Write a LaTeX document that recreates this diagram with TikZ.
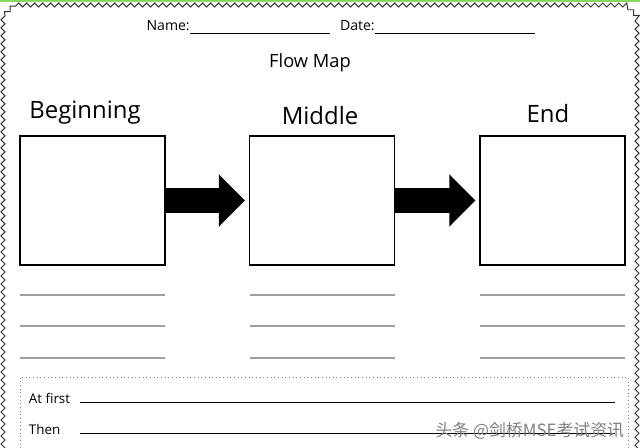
\documentclass[tikz,border=0pt]{standalone}
\usepackage{fontspec}
\setmainfont{Open Sans}
\newfontfamily\cjkfont{Noto Sans CJK SC}
\usetikzlibrary{arrows.meta,decorations.pathmorphing}
\definecolor{topgreen}{RGB}{140,212,100}
\tikzset{
  stagebox/.style={draw,line width=0.8pt,minimum width=3.625cm,minimum height=3.225cm,inner sep=0pt},
  blockarrow/.style={line width=17.8pt,-{Triangle[width=36pt,length=18.5pt]}},
  writeline/.style={gray!75,line width=1.1pt},
  fillline/.style={line width=0.7pt},
}
\begin{document}
\begin{tikzpicture}[x=0.025cm,y=-0.025cm]
  \clip (0,0) rectangle (640,448);
  \fill[white] (0,0) rectangle (640,448);
  % page edge
  \fill[topgreen] (0,0) rectangle (640,2);
  \draw[black!80,line width=0.7pt,decorate,decoration={zigzag,segment length=0.2cm,amplitude=0.05cm}]
    (3,470) -- (3,16) -- (14,5) -- (626,5) -- (637,16) -- (637,470);
  % header
  \node[anchor=base east,inner sep=0pt,font=\fontsize{10}{12}\selectfont] (name) at (190,30) {Name:};
  \draw[fillline] (name.base east) ++(0,3) coordinate (n0) -- (330,33);
  \node[anchor=base east,inner sep=0pt,font=\fontsize{10}{12}\selectfont] (date) at (375,30) {Date:};
  \draw[fillline] (date.base east) ++(0,3) coordinate (d0) -- (535,33);
  \node[font=\fontsize{13}{15}\selectfont] (title) at (310,63) {Flow Map};
  % stages
  \node[stagebox] (b1) at (92.5,200.5) {};
  \node[stagebox] (b2) at (322,200.5) {};
  \node[stagebox] (b3) at (552.5,200.5) {};
  \node[font=\fontsize{17}{20}\selectfont] (t1) at (85,113) {Beginning};
  \node[font=\fontsize{17}{20}\selectfont] (t2) at (320,116) {Middle};
  \node[font=\fontsize{17}{20}\selectfont] (t3) at (548,114) {End};
  \draw[blockarrow] (b1.east) -- ([xshift=-4*0.025cm]b2.west);
  \draw[blockarrow] (b2.east) -- ([xshift=-4*0.025cm]b3.west);
  % lines under the boxes
  \foreach \x in {20,250,480}
    \foreach \y in {295,326,358}
      \draw[writeline] (\x,\y) -- ++(145,0);
  % sentence frame
  \draw[gray,dotted,line width=0.6pt] (20,470) -- (20,377) -- (628,377) -- (628,470);
  \node[anchor=base west,font=\fontsize{9.5}{11}\selectfont] (first) at (24,403) {At first};
  \node[anchor=base west,font=\fontsize{9.5}{11}\selectfont] (then) at (24,434) {Then};
  \draw[fillline] (80,402) -- (615,402);
  \draw[fillline] (80,433) -- (615,433);
  \node[anchor=base east,font=\cjkfont\fontsize{12}{14}\selectfont,text=gray] (mark) at (629,436) {头条 @剑桥MSE考试资讯};
\end{tikzpicture}
\end{document}
